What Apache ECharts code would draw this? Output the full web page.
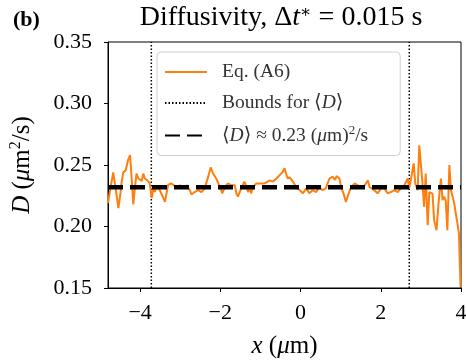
<!DOCTYPE html>
<html>
<head>
<meta charset="utf-8">
<script src="https://cdn.jsdelivr.net/npm/echarts@6/dist/echarts.min.js"></script>
<style>html,body{margin:0;padding:0;background:#fff;}#c{width:466px;height:360px;}</style>
</head>
<body>
<div id="c"></div>
<script>
// ---- data ----
const xVals = [
-4.80,-4.74,-4.67,-4.61,-4.54,-4.49,-4.46,-4.42,-4.36,-4.30,-4.25,-4.21,-4.17,-4.13,-4.09,-4.04,-4.00,-3.96,-3.92,-3.88,-3.84,-3.80,-3.76,-3.71,-3.67,-3.63,-3.59,-3.55,-3.50,-3.46,-3.42,-3.38,-3.34,-3.30,-3.26,-3.22,
-3.18,-3.09,-3.01,-2.93,-2.84,-2.76,-2.72,-2.64,-2.55,-2.47,-2.39,-2.33,-2.28,-2.24,-2.18,-2.10,-2.01,-1.95,-1.89,-1.81,-1.72,
-1.64,-1.60,-1.56,-1.48,-1.40,-1.36,-1.31,-1.27,-1.23,-1.19,-1.10,-1.02,-0.98,-0.90,-0.82,-0.77,-0.69,-0.60,-0.52,-0.44,-0.40,-0.36,-0.32,-0.27,-0.19,-0.11,-0.02,
0.06,0.14,0.22,0.30,0.39,0.47,0.55,0.63,0.72,0.80,0.86,0.90,0.97,1.01,1.07,1.13,1.20,1.26,1.35,1.43,1.51,1.60,1.68,
1.72,1.76,1.84,1.92,2.01,2.09,2.17,2.25,2.34,2.42,2.50,2.59,
2.67,2.71,2.77,2.82,2.86,2.92,2.96,3.00,3.04,3.08,3.12,3.17,3.21,3.25,3.29,3.33,3.39,3.44,3.50,3.54,3.58,3.62,3.66,3.71,3.75,3.79,3.83,3.87,3.91,3.95,3.97,3.99
];
const dEq = [
0.219,0.231,0.244,0.231,0.215,0.227,0.236,0.244,0.2455,0.254,0.258,0.239,0.218,0.231,0.243,0.239,0.240,0.237,0.243,0.239,0.240,0.237,0.235,0.223,0.231,0.228,0.233,0.231,0.229,0.226,0.223,0.220,0.227,0.234,0.234,0.235,
0.235,0.232,0.2335,0.2315,0.2335,0.2295,0.226,0.228,0.2295,0.228,0.231,0.2375,0.243,0.248,0.243,0.239,0.232,0.227,0.232,0.235,0.2335,
0.2335,0.227,0.2243,0.231,0.2365,0.2335,0.228,0.2305,0.227,0.232,0.235,0.235,0.2365,0.235,0.2365,0.2375,0.2365,0.239,0.2418,0.2445,0.2474,0.243,0.239,0.2399,0.2365,0.232,0.2295,
0.227,0.231,0.227,0.2295,0.228,0.232,0.2295,0.231,0.239,0.2405,0.238,0.241,0.239,0.232,0.227,0.220,0.227,0.232,0.235,0.2335,0.232,0.2335,0.2375,
0.232,0.2335,0.2295,0.227,0.231,0.231,0.227,0.228,0.2295,0.228,0.231,0.2335,
0.239,0.231,0.2418,0.2513,0.235,0.2295,0.266,0.2676,0.235,0.216,0.243,0.201,0.228,0.228,0.2267,0.2053,0.197,0.219,0.239,0.2215,0.2243,0.221,0.197,0.25,0.2295,0.2243,0.219,0.2107,0.2027,0.194,0.17,0.151
];
const boundsX = [-3.72, 2.71];
const meanD = 0.232;
const xRange = [-4.8, 4];
const yRange = [0.15, 0.35];
const xTicks = [-4, -2, 0, 2, 4];
const yTicks = [0.15, 0.20, 0.25, 0.30, 0.35];
const seriesNames = ['Eq. (A6)', 'Bounds for ⟨D⟩', 'mean'];

// ---- build ----
const FONT = '"Liberation Serif", "DejaVu Serif", serif';
const eqData = xVals.map((x, i) => [x, dEq[i]]);
const boundData = [];
boundsX.forEach((b, i) => {
  if (i > 0) boundData.push('-');
  boundData.push([b, yRange[0]], [b, yRange[1]]);
});
const meanData = [[xRange[0], meanD], [xRange[1], meanD]];

const chart = echarts.init(document.getElementById('c'), null, {renderer: 'canvas'});
chart.setOption({
  animation: false,
  backgroundColor: '#fff',
  grid: {left: 108, right: 5, top: 42, bottom: 72, show: true, borderColor: '#000', borderWidth: 1,
    backgroundColor: 'transparent', outerBoundsMode: 'none', containLabel: false},
  graphic: [
    {type: 'text', x: 13, y: 20, style: {text: '(b)', font: 'bold 22px ' + FONT, fill: '#000', verticalAlign: 'middle'}},
    {type: 'text', x: 281, y: 18, style: {
      text: 'Diffusivity, Δ{i|t}{s|∗} = 0.015 s', fill: '#000', align: 'center', verticalAlign: 'middle',
      font: '28px ' + FONT,
      rich: {i: {fontStyle: 'italic', fontSize: 28, fontFamily: FONT}, s: {fontSize: 17, fontFamily: FONT, padding: [0, 0, 11, 0]}}
    }}
  ],
  legend: {
    orient: 'vertical', left: 157, top: 52,
    padding: [10, 32, 10, 7],
    itemGap: 11, itemWidth: 42, itemHeight: 18,
    itemStyle: {opacity: 0},
    backgroundColor: '#fff', borderColor: '#d0d0d0', borderWidth: 1, borderRadius: 4,
    data: seriesNames,
    formatter: function (n) {
      if (n === 'Bounds for ⟨D⟩') return 'Bounds for ⟨{i|D}⟩';
      if (n === 'mean') return '⟨{i|D}⟩ ≈ 0.23 ({i|μ}m){s|2}/s';
      return n;
    },
    textStyle: {
      fontFamily: FONT, fontSize: 19.5, color: '#333', padding: [0, 0, 0, 10],
      rich: {
        i: {fontFamily: FONT, fontSize: 19.5, fontStyle: 'italic', color: '#333'},
        s: {fontFamily: FONT, fontSize: 13, color: '#333', padding: [0, 0, 10, 0]}
      }
    }
  },
  xAxis: {
    type: 'value', min: xRange[0], max: xRange[1],
    axisLine: {show: true, onZero: false, lineStyle: {color: '#000', width: 1}},
    axisTick: {show: true, customValues: xTicks, length: 4, lineStyle: {color: '#000'}},
    axisLabel: {customValues: xTicks, fontFamily: FONT, fontSize: 22, color: '#000', margin: 14,
      formatter: v => String(v).replace('-', '−')},
    splitLine: {show: false},
    name: '{i|x} ({i|μ}m)', nameLocation: 'middle', nameGap: 46,
    nameTextStyle: {fontFamily: FONT, fontSize: 25, color: '#000',
      rich: {i: {fontFamily: FONT, fontSize: 25, fontStyle: 'italic', color: '#000'}}}
  },
  yAxis: {
    type: 'value', min: yRange[0], max: yRange[1],
    axisLine: {show: true, onZero: false, lineStyle: {color: '#000', width: 1}},
    axisTick: {show: true, customValues: yTicks, length: 4, lineStyle: {color: '#000'}},
    axisLabel: {customValues: yTicks, fontFamily: FONT, fontSize: 22, color: '#000', margin: 16,
      formatter: v => v.toFixed(2)},
    splitLine: {show: false},
    name: '{i|D} ({i|μ}m{s|2}/s)', nameLocation: 'middle', nameGap: 72, nameRotate: 90,
    nameTextStyle: {fontFamily: FONT, fontSize: 25, color: '#000',
      rich: {i: {fontFamily: FONT, fontSize: 25, fontStyle: 'italic', color: '#000'},
             s: {fontFamily: FONT, fontSize: 16, color: '#000', padding: [0, 0, 12, 0]}}}
  },
  series: [
    {name: seriesNames[0], type: 'line', data: eqData, symbol: 'none', z: 3,
      lineStyle: {color: '#ff7f0e', width: 2}, itemStyle: {color: '#ff7f0e'}},
    {name: seriesNames[1], type: 'line', data: boundData, symbol: 'none', z: 2, connectNulls: false,
      lineStyle: {color: '#000', width: 1.5, type: [1.5, 2]}, itemStyle: {color: '#000'}},
    {name: seriesNames[2], type: 'line', data: meanData, symbol: 'none', z: 4,
      lineStyle: {color: '#000', width: 4.5, type: [15, 7]}, itemStyle: {color: '#000'}}
  ]
});
</script>
</body>
</html>
